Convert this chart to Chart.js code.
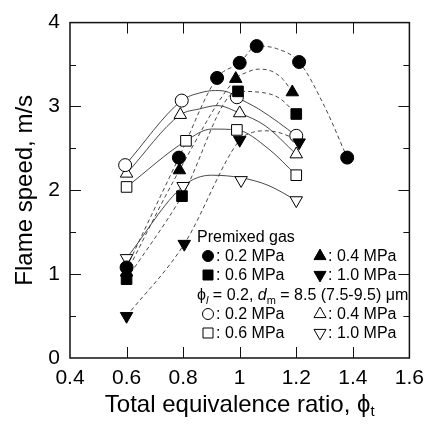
<!DOCTYPE html>
<html>
<head>
<meta charset="utf-8">
<script src="https://cdn.jsdelivr.net/npm/chart.js@4.4.0/dist/chart.umd.min.js"></script>
<style>
html, body { margin: 0; padding: 0; background: #fff; }
#wrap { width: 432px; height: 425px; }
</style>
</head>
<body>
<div id="wrap"><canvas id="myChart" width="432" height="425"></canvas></div>
<script>
'use strict';
// axis ticks
let xTicks = [0.4, 0.6, 0.8, 1.0, 1.2, 1.4, 1.6];
let yTicks = [0, 1, 2, 3, 4];

// premixed gas, measured points (filled markers)
let pre02X = [0.6, 0.785, 0.92, 1.0, 1.06, 1.21, 1.38];
let pre02Y = [1.08, 2.39, 3.34, 3.52, 3.72, 3.53, 2.39];
let pre04X = [0.6, 0.787, 0.986, 1.186];
let pre04Y = [1.02, 2.24, 3.33, 3.17];
let pre06X = [0.6, 0.796, 0.994, 1.2];
let pre06Y = [0.94, 1.93, 3.18, 2.91];
let pre10X = [0.6, 0.804, 1.0, 1.21];
let pre10Y = [0.50, 1.36, 2.60, 2.57];

// mist case, measured points (open markers)
let mist02X = [0.595, 0.795, 0.99, 1.2];
let mist02Y = [2.30, 3.07, 3.11, 2.65];
let mist04X = [0.6, 0.79, 1.0, 1.2];
let mist04Y = [2.20, 2.90, 2.92, 2.43];
let mist06X = [0.6, 0.81, 0.99, 1.2];
let mist06Y = [2.04, 2.59, 2.72, 2.18];
let mist10X = [0.6, 0.8, 1.005, 1.2];
let mist10Y = [1.19, 2.05, 2.12, 1.88];

// fitted curves
let curvePre02X = [0.6, 0.785, 0.92, 1.0, 1.06, 1.13, 1.21, 1.30, 1.38];
let curvePre02Y = [1.08, 2.39, 3.34, 3.52, 3.72, 3.69, 3.53, 3.0, 2.39];
let curvePre04X = [0.6, 0.787, 0.986, 1.02, 1.067, 1.113, 1.154, 1.186];
let curvePre04Y = [1.02, 2.24, 3.33, 3.40, 3.445, 3.42, 3.32, 3.17];
let curvePre06X = [0.6, 0.796, 0.994, 1.07, 1.14, 1.2];
let curvePre06Y = [0.94, 1.93, 3.18, 3.17, 3.10, 2.91];
let curvePre10X = [0.6, 0.804, 1.0, 1.045, 1.09, 1.137, 1.183, 1.21];
let curvePre10Y = [0.50, 1.36, 2.60, 2.69, 2.71, 2.69, 2.63, 2.57];

let curveMist02X = [0.595, 0.795, 0.857, 0.915, 0.96, 0.99, 1.067, 1.137, 1.2];
let curveMist02Y = [2.30, 3.07, 3.16, 3.19, 3.17, 3.11, 2.97, 2.81, 2.65];
let curveMist04X = [0.6, 0.79, 0.857, 0.92, 1.0, 1.09, 1.2];
let curveMist04Y = [2.20, 2.90, 2.97, 3.01, 2.92, 2.77, 2.43];
let curveMist06X = [0.6, 0.81, 0.9, 0.99, 1.1, 1.2];
let curveMist06Y = [2.04, 2.59, 2.73, 2.72, 2.50, 2.18];
let curveMist10X = [0.6, 0.8, 0.9, 1.005, 1.1, 1.2];
let curveMist10Y = [1.19, 2.05, 2.18, 2.15, 2.06, 1.88];

let FONT = '"Liberation Sans", Arial, "DejaVu Sans", sans-serif';
Chart.defaults.font.family = FONT;
Chart.defaults.color = '#000';

function pairs(xs, ys){
    let out = [];
    for (let i = 0; i < xs.length; i++){
        out.push({x: xs[i], y: ys[i]});
    }
    return out;
}

function pointSet(xs, ys, style, filled, down){
    let radius = style === 'circle' ? 6.5 : (style === 'rect' ? 7.5 : 7.2);
    return {
        data: pairs(xs, ys),
        showLine: false,
        pointStyle: style,
        pointRotation: down ? 180 : 0,
        pointRadius: radius,
        pointHoverRadius: radius,
        pointBackgroundColor: filled ? '#000' : '#fff',
        pointBorderColor: '#000',
        pointBorderWidth: 1,
        order: 0
    };
}

function curveSet(xs, ys, dashed){
    return {
        data: pairs(xs, ys),
        showLine: true,
        pointRadius: 0,
        pointHoverRadius: 0,
        borderColor: '#333',
        borderWidth: 0.9,
        borderDash: dashed ? [4, 3] : [],
        cubicInterpolationMode: 'monotone',
        fill: false,
        order: 1
    };
}

function drawMark(ctx, kind, x, y, r, filled){
    ctx.save();
    ctx.beginPath();
    if (kind === 'circle'){
        ctx.arc(x, y, r, 0, Math.PI * 2);
    } else if (kind === 'rect'){
        ctx.rect(x - r, y - r, 2 * r, 2 * r);
    } else if (kind === 'up'){
        ctx.moveTo(x, y - r * 1.15);
        ctx.lineTo(x + r, y + r * 0.6);
        ctx.lineTo(x - r, y + r * 0.6);
        ctx.closePath();
    } else {
        ctx.moveTo(x, y + r * 1.15);
        ctx.lineTo(x + r, y - r * 0.6);
        ctx.lineTo(x - r, y - r * 0.6);
        ctx.closePath();
    }
    ctx.fillStyle = filled ? '#000' : '#fff';
    ctx.fill();
    ctx.strokeStyle = '#000';
    ctx.lineWidth = 1;
    ctx.stroke();
    ctx.restore();
}

function drawRuns(ctx, x, y, runs){
    for (let i = 0; i < runs.length; i++){
        let r = runs[i];
        ctx.font = r.font;
        ctx.fillText(r.t, x, y + (r.dy || 0));
        x += ctx.measureText(r.t).width;
    }
    return x;
}

function runsWidth(ctx, runs){
    let w = 0;
    for (let i = 0; i < runs.length; i++){
        ctx.font = runs[i].font;
        w += ctx.measureText(runs[i].t).width;
    }
    return w;
}

// frame, inward ticks, x title and the in-plot legend
let framePlugin = {
    id: 'frame',
    afterDraw(chart){
        let ctx = chart.ctx;
        let a = chart.chartArea;
        let xs = chart.scales.x;
        let ys = chart.scales.y;
        ctx.save();
        ctx.strokeStyle = '#111';
        ctx.lineWidth = 1;
        ctx.beginPath();
        for (let i = 1; i < xTicks.length - 1; i++){
            let px = Math.round(xs.getPixelForValue(xTicks[i])) + 0.5;
            ctx.moveTo(px, a.bottom); ctx.lineTo(px, a.bottom - 11);
            ctx.moveTo(px, a.top); ctx.lineTo(px, a.top + 11);
        }
        for (let v = 0.5; v < 4; v += 0.5){
            let len = (v % 1 === 0) ? 11 : 6;
            let py = Math.round(ys.getPixelForValue(v)) + 0.5;
            ctx.moveTo(a.left, py); ctx.lineTo(a.left + len, py);
            ctx.moveTo(a.right, py); ctx.lineTo(a.right - len, py);
        }
        ctx.stroke();
        ctx.lineWidth = 1.5;
        ctx.strokeRect(a.left, a.top, a.right - a.left, a.bottom - a.top);

        // x axis title with subscript
        ctx.fillStyle = '#000';
        ctx.textBaseline = 'alphabetic';
        ctx.textAlign = 'left';
        let titleRuns = [
            {t: 'Total equivalence ratio, ', font: '24px ' + FONT},
            {t: '\u03D5', font: '24px ' + FONT},
            {t: 't', font: '15px ' + FONT, dy: 4}
        ];
        let tw = runsWidth(ctx, titleRuns);
        drawRuns(ctx, (a.left + a.right) / 2 - tw / 2, 412, titleRuns);

        // legend
        let f = '16px ' + FONT;
        let fi = 'italic 16px ' + FONT;
        let fs = '11px ' + FONT;
        let fsi = 'italic 11px ' + FONT;
        ctx.font = f;
        ctx.fillText('Premixed gas', 197, 242);
        let rows = [
            {y: 261, items: [['circle', true, '0.2'], ['up', true, '0.4']]},
            {y: 280, items: [['rect', true, '0.6'], ['down', true, '1.0']]},
            {y: 319, items: [['circle', false, '0.2'], ['up', false, '0.4']]},
            {y: 338, items: [['rect', false, '0.6'], ['down', false, '1.0']]}
        ];
        let cols = [208, 320];
        for (let i = 0; i < rows.length; i++){
            for (let j = 0; j < 2; j++){
                let it = rows[i].items[j];
                let size = it[0] === 'circle' ? 5.5 : (it[0] === 'rect' ? 5 : 6);
                drawMark(ctx, it[0], cols[j], rows[i].y - 5, size, it[1]);
                ctx.font = f;
                ctx.fillStyle = '#000';
                ctx.fillText(': ' + it[2] + ' MPa', cols[j] + 8, rows[i].y);
            }
        }
        drawRuns(ctx, 197, 300, [
            {t: '\u03D5', font: f},
            {t: 'l', font: fsi, dy: 4},
            {t: ' = 0.2, ', font: f},
            {t: 'd', font: fi},
            {t: 'm', font: fs, dy: 4},
            {t: ' = 8.5 (7.5-9.5) \u03BCm', font: f}
        ]);
        ctx.restore();
    }
};

let ctx = document.getElementById('myChart').getContext('2d');
let myChart = new Chart(ctx, {
    type: 'scatter',
    data: {
        datasets: [
            pointSet(pre02X, pre02Y, 'circle', true, false),
            pointSet(pre04X, pre04Y, 'triangle', true, false),
            pointSet(pre06X, pre06Y, 'rect', true, false),
            pointSet(pre10X, pre10Y, 'triangle', true, true),
            pointSet(mist02X, mist02Y, 'circle', false, false),
            pointSet(mist04X, mist04Y, 'triangle', false, false),
            pointSet(mist06X, mist06Y, 'rect', false, false),
            pointSet(mist10X, mist10Y, 'triangle', false, true),
            curveSet(curvePre02X, curvePre02Y, true),
            curveSet(curvePre04X, curvePre04Y, true),
            curveSet(curvePre06X, curvePre06Y, true),
            curveSet(curvePre10X, curvePre10Y, true),
            curveSet(curveMist02X, curveMist02Y, false),
            curveSet(curveMist04X, curveMist04Y, false),
            curveSet(curveMist06X, curveMist06Y, false),
            curveSet(curveMist10X, curveMist10Y, false)
        ]
    },
    options: {
        responsive: false,
        animation: false,
        layout: { padding: { top: 19, right: 20, left: 0, bottom: 0 } },
        plugins: { legend: { display: false }, tooltip: { enabled: false } },
        scales: {
            x: {
                type: 'linear',
                min: 0.4,
                max: 1.6,
                afterBuildTicks: function(scale){
                    scale.ticks = xTicks.map(function(v){ return {value: v}; });
                },
                afterFit: function(scale){ scale.height = 67; },
                grid: { display: false, drawTicks: false },
                border: { display: false },
                ticks: {
                    font: { size: 21 },
                    color: '#000',
                    padding: 8,
                    maxRotation: 0,
                    callback: function(v){ return String(Math.round(v * 10) / 10); }
                }
            },
            y: {
                type: 'linear',
                min: 0,
                max: 4,
                afterBuildTicks: function(scale){
                    scale.ticks = yTicks.map(function(v){ return {value: v}; });
                },
                afterFit: function(scale){ scale.width = 70; },
                grid: { display: false, drawTicks: false },
                border: { display: false },
                ticks: {
                    font: { size: 21 },
                    color: '#000',
                    padding: 10,
                    callback: function(v){ return String(v); }
                },
                title: {
                    display: true,
                    text: 'Flame speed, m/s',
                    font: { size: 24 },
                    color: '#000',
                    padding: { top: 11, bottom: 0 }
                }
            }
        }
    },
    plugins: [framePlugin]
});
</script>
</body>
</html>
